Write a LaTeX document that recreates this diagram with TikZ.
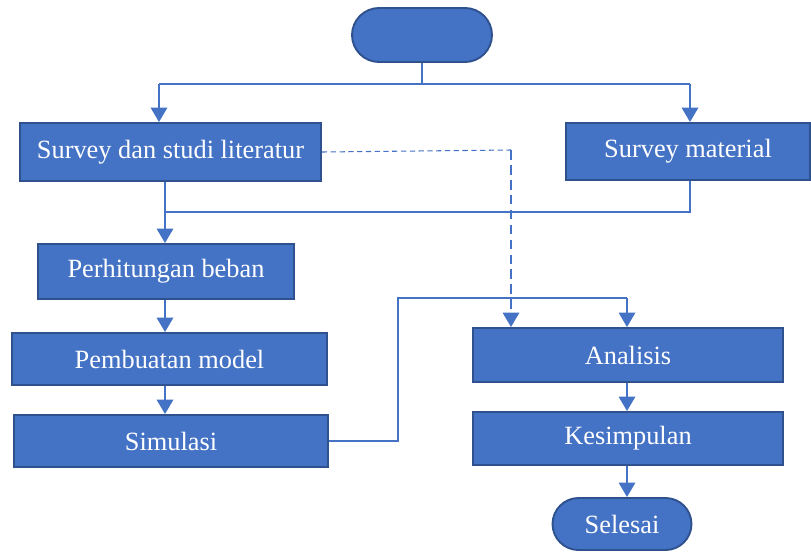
\documentclass[tikz,border=0pt]{standalone}
\usepackage{fontspec}
\setmainfont{Liberation Serif}
\usetikzlibrary{arrows.meta,positioning,calc,shapes.misc}
\definecolor{boxblue}{RGB}{68,114,196}
\definecolor{edgeblue}{RGB}{47,82,143}
\tikzset{
  box/.style={draw=edgeblue, fill=boxblue, line width=1.1pt, rectangle, align=center, text=white, font=\fontsize{15}{18}\selectfont, inner sep=2pt},
  term/.style={box, rounded rectangle},
  ln/.style={draw=boxblue, line width=0.6pt},
  arr/.style={draw=boxblue, line width=1.1pt, -{Triangle[length=2.9mm,width=3.3mm]}},
  dln/.style={ln, dash pattern=on 3pt off 2pt},
  darr/.style={arr, dash pattern=on 5.5pt off 3pt},
}
\begin{document}
\begin{tikzpicture}[x=0.02cm,y=-0.02cm]
\useasboundingbox (0,0) rectangle (811,552);
% kiri
\node[term, minimum width=2.94cm, minimum height=1.08cm] (mulai) at (422,35) {};
\node[box, minimum width=6.02cm, minimum height=1.16cm] (sdsl) at (170.5,152) {Survey dan studi literatur};
\node[box, minimum width=4.88cm, minimum height=1.14cm] (smat) at (688,151.5) {Survey material};
\node[box, minimum width=5.12cm, minimum height=1.1cm] (phb) at (166,271.5) {Perhitungan beban};
\node[box, minimum width=6.3cm, minimum height=1.04cm] (pmod) at (169.5,359) {Pembuatan model};
\node[box, minimum width=6.28cm, minimum height=1.04cm] (sim) at (171,441) {Simulasi};
% kanan
\node[box, minimum width=6.2cm, minimum height=1.08cm] (anl) at (628,355) {Analisis};
\node[box, minimum width=6.2cm, minimum height=1.06cm] (kes) at (628,438.5) {Kesimpulan};
\node[term, minimum width=2.92cm, minimum height=1.04cm] (sls) at (622,524) {Selesai};
% titik belok
\coordinate (jl) at (159,84);
\coordinate (jr) at (690,84);
\coordinate (mg) at (165,212);
\coordinate (sb) at (398,298);
\coordinate (ja) at (627,298);
\coordinate (dk) at (511,150);
% garis
\draw[ln] (mulai.south) -- (mulai.south |- jl);
\draw[ln] (jl) -- (jr);
\draw[arr] (jl) -- (jl |- sdsl.north);
\draw[arr] (jr) -- (jr |- smat.north);
\draw[ln] (jr |- smat.south) |- (mg);
\draw[arr] (sdsl.south -| mg) -- (mg |- phb.north);
\draw[arr] (phb.south -| mg) -- (mg |- pmod.north);
\draw[arr] (pmod.south -| mg) -- (mg |- sim.north);
\draw[ln] (sim.east) -| (sb) -- (ja);
\draw[arr] (ja) -- (ja |- anl.north);
\draw[dln] (sdsl.east) -- (dk);
\draw[darr] (dk) -- (dk |- anl.north);
\draw[arr] (anl.south -| ja) -- (ja |- kes.north);
\draw[arr] (kes.south -| ja) -- (ja |- sls.north);
\end{tikzpicture}
\end{document}
